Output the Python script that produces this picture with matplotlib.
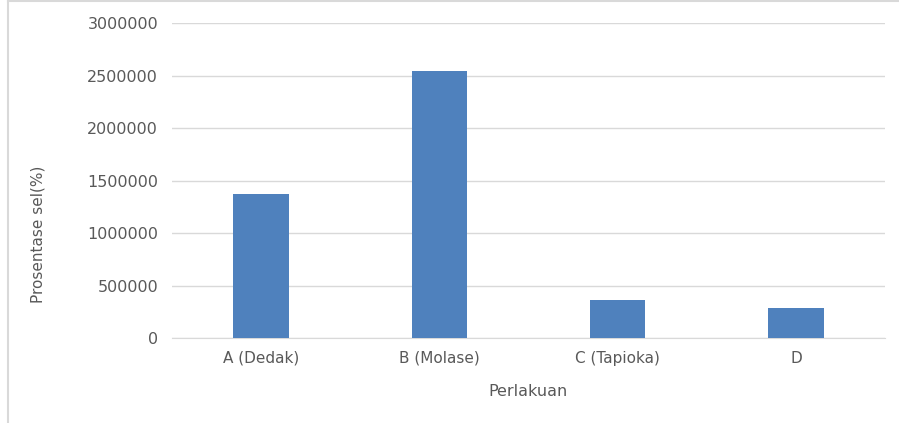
import matplotlib
matplotlib.use("Agg")
import matplotlib.pyplot as plt

categories = ["A (Dedak)", "B (Molase)", "C (Tapioka)", "D"]
values = [1370000, 2540000, 360000, 290000]
yticks = [0, 500000, 1000000, 1500000, 2000000, 2500000, 3000000]

text_color = "#595959"
plt.rcParams["font.family"] = ["DejaVu Sans"]

fig = plt.figure(figsize=(8.99, 4.23), dpi=100)
ax = fig.add_axes([172/899, 1-338/423, 713/899, 315/423])

x = range(len(categories))
ax.bar(x, values, width=0.31, color="#4F81BD", zorder=3)
ax.set_xlim(-0.5, len(categories)-0.5)
ax.set_ylim(0, 3000000)
ax.set_yticks(yticks)
ax.set_yticklabels([str(v) for v in yticks])
ax.set_xticks(list(x))
ax.set_xticklabels(categories)
ax.yaxis.grid(True, color="#D9D9D9", linewidth=1, zorder=0)
for s in ["top", "right", "left"]:
    ax.spines[s].set_visible(False)
ax.spines["bottom"].set_color("#D9D9D9")
ax.tick_params(axis="both", length=0, colors=text_color)
ax.tick_params(axis="y", pad=10, labelsize=11.5)
ax.tick_params(axis="x", pad=9, labelsize=11)
ax.set_xlabel("Perlakuan", color=text_color, fontsize=11.5)
ax.xaxis.set_label_coords(0.5, -0.145)
ax.set_ylabel("Prosentase sel(%)", color=text_color, fontsize=11)
ax.yaxis.set_label_coords(-0.178, 0.33)

# outer chart border (left and top)
fig.add_artist(plt.Line2D([8/899, 8/899], [0, 1-1/423], color="#D9D9D9", linewidth=1.5))
fig.add_artist(plt.Line2D([8/899, 1], [1-1.5/423, 1-1.5/423], color="#D9D9D9", linewidth=1.5))

fig.savefig("out.png", dpi=100)
